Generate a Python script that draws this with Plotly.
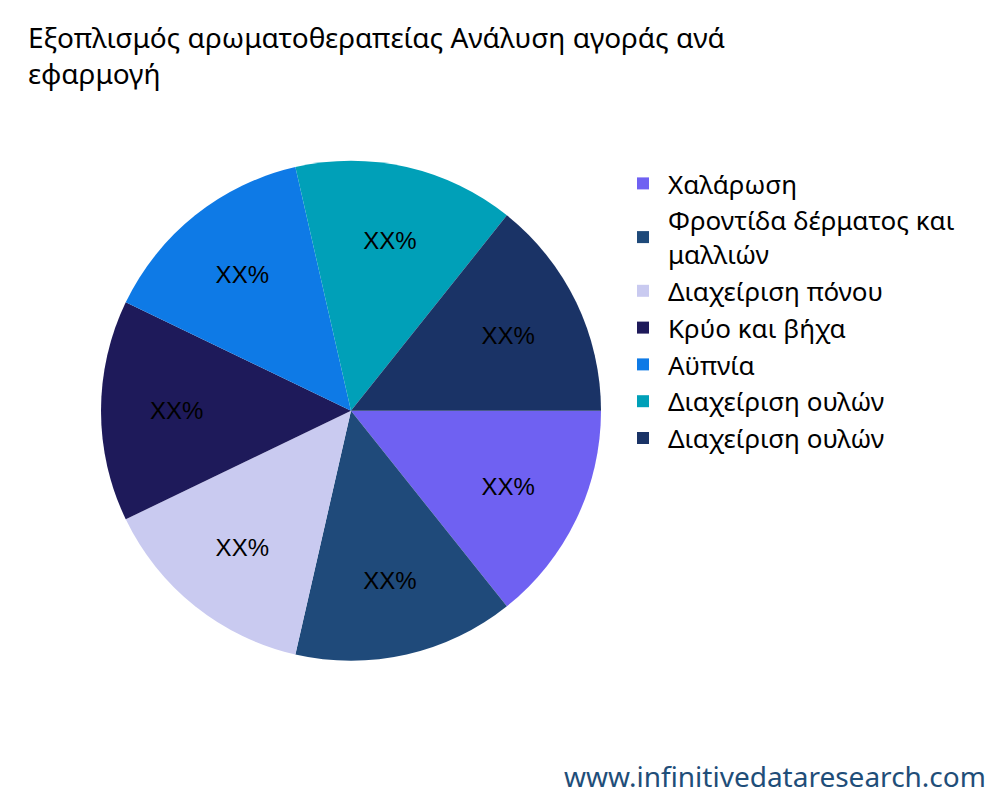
import plotly.graph_objects as go

labels = ["Χαλάρωση", "Φροντίδα δέρματος και<br>μαλλιών", "Διαχείριση πόνου", "Κρύο και βήχα", "Αϋπνία", "Διαχείριση ουλών", "Διαχείριση ουλών "]
values = [1, 1, 1, 1, 1, 1, 1]
texts = ["XX%"] * 7
colors = ["#6F61F2", "#1F4A7A", "#C9CAF0", "#1E1A5A", "#0E7AE6", "#00A0B8", "#1A3366"]

fig = go.Figure(go.Pie(
    labels=labels, values=values, text=texts, textinfo="text",
    textposition="inside", insidetextorientation="horizontal",
    sort=False, direction="clockwise", rotation=90,
    marker=dict(colors=colors),
    textfont=dict(size=24, color="black", family="Liberation Sans"),
    domain=dict(x=[0.093, 0.593], y=[0.184, 0.809]),
))
fig.update_layout(
    width=1000, height=800,
    margin=dict(l=0, r=0, t=0, b=0),
    paper_bgcolor="white",
    font=dict(family="Noto Sans", size=26, color="black"),
    title=dict(text="Εξοπλισμός αρωματοθεραπείας Ανάλυση αγοράς ανά<br>εφαρμογή",
               x=0.02, xanchor="left", y=0.95, yanchor="top",
               font=dict(size=28, family="Noto Sans")),
    legend=dict(x=0.61, y=0.81, xanchor="left", yanchor="top",
                font=dict(size=26), itemwidth=40),
    annotations=[dict(text="www.infinitivedataresearch.com", x=0.98, y=0.04,
                      xref="paper", yref="paper", xanchor="right", yanchor="middle",
                      showarrow=False, font=dict(size=28, color="#1F4E79"))],
)
fig.write_html("out.html")
